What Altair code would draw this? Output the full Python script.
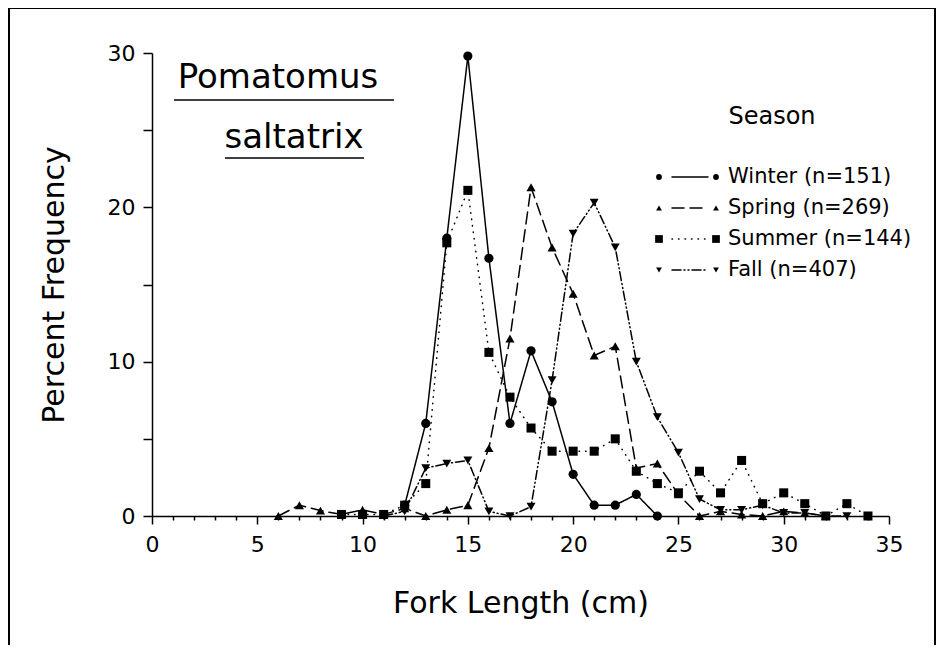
import altair as alt
import pandas as pd

FONT = "DejaVu Sans"

seasons = ["Winter", "Spring", "Summer", "Fall"]
season_labels = ["Winter (n=151)", "Spring (n=269)", "Summer (n=144)", "Fall (n=407)"]

winter_len = list(range(12, 25))
winter_pct = [0.7, 6.0, 18.0, 29.8, 16.7, 6.0, 10.7, 7.4, 2.7, 0.7, 0.7, 1.4, 0.0]

spring_len = list(range(6, 33))
spring_pct = [0.0, 0.7, 0.35, 0.1, 0.4, 0.1, 0.5, 0.0, 0.4, 0.7, 4.4, 11.5, 21.3,
              17.4, 14.4, 10.4, 11.0, 3.1, 3.4, 1.4, 0.0, 0.3, 0.1, 0.0, 0.3, 0.2, 0.0]

summer_len = list(range(9, 35))
summer_pct = [0.1, 0.1, 0.1, 0.7, 2.1, 17.7, 21.1, 10.6, 7.7, 5.7, 4.2, 4.2, 4.2,
              5.0, 2.9, 2.1, 1.5, 2.9, 1.5, 3.6, 0.8, 1.5, 0.8, 0.0, 0.8, 0.0]

fall_len = list(range(11, 34))
fall_pct = [0.0, 0.3, 3.1, 3.4, 3.6, 0.3, 0.0, 0.6, 8.8, 18.3, 20.3, 17.4, 10.0,
            6.4, 4.1, 1.1, 0.4, 0.4, 0.7, 0.2, 0.2, 0.0, 0.0]

x_ticks = list(range(0, 36))
y_ticks = [0, 5, 10, 15, 20, 25, 30]

rows = []
for s, L, P in [("Winter", winter_len, winter_pct), ("Spring", spring_len, spring_pct),
                ("Summer", summer_len, summer_pct), ("Fall", fall_len, fall_pct)]:
    for l, p in zip(L, P):
        rows.append({"season": s, "length": l, "pct": p})
df = pd.DataFrame(rows)
df_leg = pd.DataFrame({"season": seasons, "label": season_labels})

dash_scale = alt.Scale(domain=seasons, range=[[1, 0], [12, 6], [0.5, 6], [9, 3, 1, 3, 1, 3]])
width_scale = alt.Scale(domain=seasons, range=[1.5, 1.5, 2.2, 1.5])
shape_scale = alt.Scale(domain=seasons, range=["circle", "triangle-up", "square", "triangle-down"])
size_scale = alt.Scale(domain=seasons, range=[85, 80, 140, 80])

xaxis = alt.Axis(values=x_ticks, labelExpr="datum.value % 5 === 0 ? datum.label : ''",
                 tickSize={"condition": {"test": "datum.value % 5 === 0", "value": 8}, "value": 4},
                 title="Fork Length (cm)", grid=False, labelPadding=10, titlePadding=33,
                 labelFlush=False)
yaxis = alt.Axis(values=y_ticks, labelExpr="datum.value % 10 === 0 ? datum.label : ''",
                 tickSize=9, title="Percent Frequency", grid=False, labelPadding=8,
                 titlePadding=38)

base = alt.Chart(df).encode(
    x=alt.X("length:Q", scale=alt.Scale(domain=[0, 35], nice=False, zero=False), axis=xaxis),
    y=alt.Y("pct:Q", scale=alt.Scale(domain=[0, 30], nice=False), axis=yaxis),
)

lines = base.mark_line(color="black", strokeCap="round").encode(
    strokeDash=alt.StrokeDash("season:N", scale=dash_scale, legend=None),
    strokeWidth=alt.StrokeWidth("season:N", scale=width_scale, legend=None),
    detail="season:N",
)
points = base.mark_point(filled=True, color="black", opacity=1).encode(
    shape=alt.Shape("season:N", scale=shape_scale, legend=None),
    size=alt.Size("season:N", scale=size_scale, legend=None),
)

layers = [lines, points]

# custom legend
for i, s in enumerate(seasons):
    yv = 124 + 31 * i
    row = alt.Chart(df_leg).transform_filter(alt.datum.season == s)
    for xv in (507, 564):
        layers.append(row.mark_point(filled=True, color="black", opacity=1).encode(
            x=alt.value(xv), y=alt.value(yv),
            shape=alt.Shape("season:N", scale=shape_scale, legend=None),
            size=alt.value(34 if s != "Summer" else 60)))
    layers.append(row.mark_rule(color="black", strokeCap="round").encode(
        x=alt.value(520), x2=alt.value(556), y=alt.value(yv),
        strokeDash=alt.StrokeDash("season:N", scale=dash_scale, legend=None),
        strokeWidth=alt.StrokeWidth("season:N", scale=width_scale, legend=None)))
    layers.append(row.mark_text(align="left", baseline="middle", font=FONT, fontSize=21,
                                color="black").encode(
        x=alt.value(576), y=alt.value(yv), text="label:N"))

title_df = pd.DataFrame({"t": ["Season"]})
layers.append(alt.Chart(title_df).mark_text(font=FONT, fontSize=24, color="black",
                                            baseline="middle").encode(
    x=alt.value(620), y=alt.value(64), text="t:N"))

# species name
sp1 = pd.DataFrame({"t": ["Pomatomus"]})
sp2 = pd.DataFrame({"t": ["saltatrix"]})
layers.append(alt.Chart(sp1).mark_text(font=FONT, fontSize=34, color="black",
                                       baseline="middle").encode(
    x=alt.value(126), y=alt.value(25), text="t:N"))
layers.append(alt.Chart(sp2).mark_text(font=FONT, fontSize=34, color="black",
                                       baseline="middle").encode(
    x=alt.value(142), y=alt.value(85), text="t:N"))
layers.append(alt.Chart(sp1).mark_rule(color="black", strokeWidth=1.5).encode(
    x=alt.value(22), x2=alt.value(242), y=alt.value(47)))
layers.append(alt.Chart(sp2).mark_rule(color="black", strokeWidth=1.5).encode(
    x=alt.value(73), x2=alt.value(212), y=alt.value(105)))

# outer frame
fr = pd.DataFrame({"t": [0]})
layers.append(alt.Chart(fr).mark_rule(color="black", strokeWidth=2).encode(
    x=alt.value(-143), x2=alt.value(783), y=alt.value(-45)))
layers.append(alt.Chart(fr).mark_rule(color="black", strokeWidth=2).encode(
    x=alt.value(-143), y=alt.value(-45), y2=alt.value(600)))
layers.append(alt.Chart(fr).mark_rule(color="black", strokeWidth=2).encode(
    x=alt.value(783), y=alt.value(-45), y2=alt.value(600)))

chart = alt.layer(*layers).properties(
    width=737, height=463,
    autosize=alt.AutoSizeParams(type="none"),
    padding={"left": 144, "top": 45, "right": 47, "bottom": 129},
    background="white",
).configure_view(stroke=None).configure_axis(
    labelFont=FONT, titleFont=FONT, labelFontSize=22, titleFontSize=30,
    titleFontWeight="normal", labelColor="black", titleColor="black",
    domainColor="black", tickColor="black", domainWidth=1.5, tickWidth=1.5,
)

chart.save("out.html", embed_options={"renderer": "svg", "actions": False})
